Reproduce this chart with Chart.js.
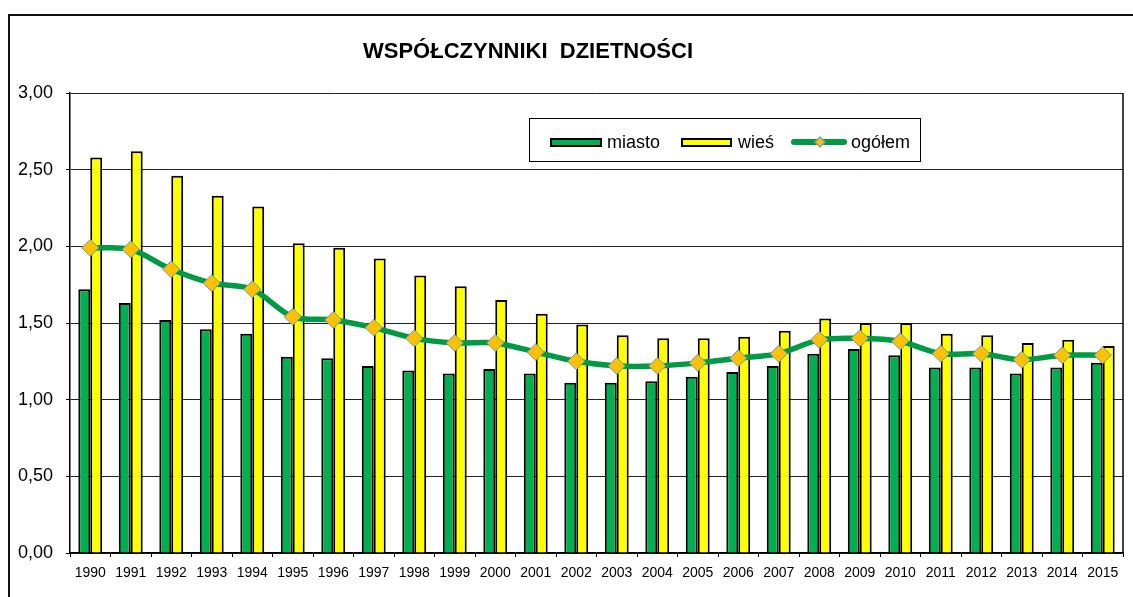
<!DOCTYPE html>
<html>
<head>
<meta charset="utf-8">
<script src="https://cdn.jsdelivr.net/npm/chart.js@4.4.0/dist/chart.umd.min.js"></script>
<style>
  html, body { margin: 0; padding: 0; background: #fff; }
  #wrap { position: relative; width: 1133px; height: 597px; overflow: hidden; font-family: "Liberation Sans", Arial, sans-serif; }
  #frame { position: absolute; left: 8px; top: 14px; width: 1200px; height: 700px; border-left: 2px solid #111; border-top: 2px solid #111; box-sizing: border-box; }
  #c { position: absolute; left: 0; top: 0; }
  #title { position: absolute; left: 0; top: 40px; width: 1056px; text-align: center; font-weight: bold; font-size: 22px; line-height: 22px; color: #000; white-space: pre; }
  #legend { position: absolute; left: 529px; top: 118px; width: 392px; height: 44px; border: 1.5px solid #000; box-sizing: border-box; background: #fff; }
  .sw { position: absolute; box-sizing: border-box; }
  .lt { position: absolute; font-size: 18px; line-height: 18px; color: #000; white-space: nowrap; }
</style>
</head>
<body>
<div id="wrap">
  <canvas id="c" width="1133" height="597"></canvas>
  <div id="frame"></div>
  <div id="title">WSPÓŁCZYNNIKI  DZIETNOŚCI</div>
  <div id="legend"></div>
</div>
<script>
const years = ['1990','1991','1992','1993','1994','1995','1996','1997','1998','1999','2000','2001','2002','2003','2004','2005','2006','2007','2008','2009','2010','2011','2012','2013','2014','2015'];
const miasto = [1.72,1.63,1.52,1.46,1.43,1.28,1.27,1.22,1.19,1.17,1.20,1.17,1.11,1.11,1.12,1.15,1.18,1.22,1.30,1.33,1.29,1.21,1.21,1.17,1.21,1.24];
const wies   = [2.58,2.62,2.46,2.33,2.26,2.02,1.99,1.92,1.81,1.74,1.65,1.56,1.49,1.42,1.40,1.40,1.41,1.45,1.53,1.50,1.50,1.43,1.42,1.37,1.39,1.35];
const ogolem = [1.99,1.98,1.85,1.76,1.72,1.54,1.52,1.47,1.40,1.37,1.37,1.31,1.25,1.22,1.22,1.24,1.27,1.30,1.39,1.40,1.38,1.30,1.30,1.26,1.29,1.29];
const yTicks = [0, 0.5, 1, 1.5, 2, 2.5, 3];
const seriesNames = ['miasto', 'wieś', 'ogółem'];

const COL_GREEN = '#00B050';
const COL_YELLOW = '#FFFF00';
const COL_LINE = '#009A44';
const COL_MARK = '#FFC000';
const COL_MARK_BORDER = '#5B9BD5';

// HTML legend
(function(){
  const lg = document.getElementById('legend');
  const off = {x: 529, y: 118};
  function add(el, x, y, w, h, css){ el.style.left=(x-off.x)+'px'; el.style.top=(y-off.y)+'px'; if(w!=null) el.style.width=w+'px'; if(h!=null) el.style.height=h+'px'; Object.assign(el.style, css||{}); lg.appendChild(el); return el; }
  const s1 = document.createElement('div'); s1.className='sw'; add(s1, 549, 137, 52, 9, {background: COL_GREEN, border:'2px solid #000'});
  const t1 = document.createElement('div'); t1.className='lt'; t1.textContent = seriesNames[0]; add(t1, 606, 132);
  const s2 = document.createElement('div'); s2.className='sw'; add(s2, 680, 137, 51, 9, {background: COL_YELLOW, border:'2px solid #000'});
  const t2 = document.createElement('div'); t2.className='lt'; t2.textContent = seriesNames[1]; add(t2, 737, 132);
  const s3 = document.createElement('div'); s3.className='sw'; add(s3, 790, 138, 56, 6, {background: COL_LINE, borderRadius:'3px'});
  const d3 = document.createElement('div'); d3.className='sw'; add(d3, 815, 137, 8, 8, {background: COL_MARK, border:'1px solid '+COL_MARK_BORDER, transform:'rotate(45deg)'});
  const t3 = document.createElement('div'); t3.className='lt'; t3.textContent = seriesNames[2]; add(t3, 850, 132);
})();

const rightBorder = {
  id: 'rightBorder',
  afterDraw(chart){
    const {ctx, chartArea} = chart;
    ctx.save();
    ctx.strokeStyle = '#000';
    ctx.lineWidth = 1.5;
    ctx.beginPath();
    ctx.moveTo(chartArea.right, chartArea.top);
    ctx.lineTo(chartArea.right, chartArea.bottom);
    ctx.stroke();
    ctx.restore();
  }
};

new Chart(document.getElementById('c'), {
  data: {
    labels: years,
    datasets: [
      { type: 'line', label: seriesNames[2], data: ogolem, order: 0,
        borderColor: COL_LINE, borderWidth: 5.5, tension: 0.3,
        pointStyle: 'rectRot', pointRadius: 8.5, pointHoverRadius: 8.5,
        pointBackgroundColor: COL_MARK, pointBorderColor: COL_MARK_BORDER, pointBorderWidth: 1 },
      { type: 'bar', label: seriesNames[0], data: miasto, order: 1,
        backgroundColor: COL_GREEN, borderColor: '#000', borderWidth: 2,
        barPercentage: 1.0, categoryPercentage: 0.59 },
      { type: 'bar', label: seriesNames[1], data: wies, order: 1,
        backgroundColor: COL_YELLOW, borderColor: '#000', borderWidth: 2,
        barPercentage: 1.0, categoryPercentage: 0.59 }
    ]
  },
  options: {
    responsive: false,
    animation: false,
    layout: { padding: { left: 0, right: 10, top: 93, bottom: 0 } },
    plugins: { legend: { display: false }, title: { display: false }, tooltip: { enabled: false } },
    scales: {
      x: {
        afterFit(s){ s.height = 44; },
        grid: { display: true, drawOnChartArea: false, offset: true, tickLength: 4, tickColor: '#000' },
        border: { display: true, color: '#000', width: 1.5 },
        ticks: { color: '#000', font: { family: 'Liberation Sans', size: 14 }, padding: 8, maxRotation: 0, autoSkip: false }
      },
      y: {
        min: 0, max: 3,
        afterFit(s){ s.width = 70; },
        afterBuildTicks(s){ s.ticks = yTicks.map(v => ({ value: v })); },
        grid: { color: '#222', borderDash: [3, 2], lineWidth: 1, tickLength: 4, tickColor: '#000', tickBorderDash: [] },
        border: { display: true, color: '#000', width: 1.5 },
        ticks: { color: '#000', font: { family: 'Liberation Sans', size: 18 }, padding: 13,
          callback: v => Number(v).toFixed(2).replace('.', ',') }
      }
    }
  },
  plugins: [rightBorder]
});
</script>
</body>
</html>
